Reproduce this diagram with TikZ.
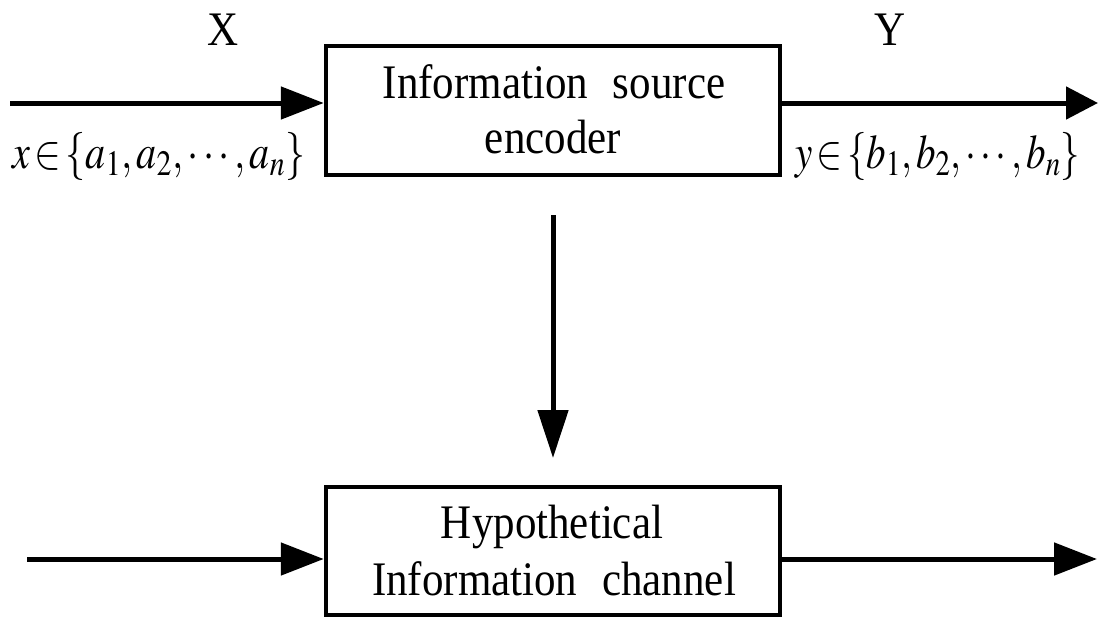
\documentclass[tikz,border=0pt]{standalone}
\usepackage{mathptmx}
\usepackage{fontspec}
\setmainfont{Liberation Serif}
\usepackage{graphicx}
\usetikzlibrary{arrows.meta}
% slightly tall serif lettering
\newcommand{\tall}[1]{\scalebox{1}[1.12]{#1}}
% a set expression fitted to a given width
\newcommand{\fitset}[2]{\resizebox{#1}{1.12\height}{#2}}
\begin{document}
\begin{tikzpicture}[x=1pt,y=-1pt,
  block/.style={draw,line width=4.5pt,minimum width=454pt,inner sep=0pt},
  txt/.style={inner sep=0pt,anchor=base,font=\fontsize{43}{49}\selectfont},
  flow/.style={line width=5pt,-{Triangle[length=43pt,width=32pt]}}]
\useasboundingbox (0,0) rectangle (1099,621);

% blocks
\node[block,minimum height=129pt] (enc) at (553,110.5) {};
\node[block,minimum height=128pt] (chan) at (553,551) {};

% block texts
\node[txt] (enc1) at (554,98) {\tall{Information\hspace{14pt} source}};
\node[txt] (enc2) at (553,153) {\tall{encoder}};
\node[txt] (chan1) at (552,538) {\tall{Hypothetical}};
\node[txt] (chan2) at (554,595) {\tall{Information\hspace{14pt} channel}};

% variable names and alphabets
\node[txt] (xname) at (223,45) {\tall{X}};
\node[txt] (yname) at (890,45) {\tall{Y}};
\node[txt,anchor=base west] (xset) at (12,168)
  {\fitset{293pt}{$x\!\in\!\{a_1,a_2,\cdots,a_n\}$}};
\node[txt,anchor=base west] (yset) at (795,168)
  {\fitset{285pt}{$y\!\in\!\{b_1,b_2,\cdots,b_n\}$}};

% arrow end points
\coordinate (inA) at (10,103);
\coordinate (outA) at (1098,103);
\coordinate (inB) at (27,559);
\coordinate (outB) at (1097,559);
\coordinate (downS) at (553,215);
\coordinate (downE) at (553,458);

% arrows
\draw[flow] (inA) -- (inA -| enc.west);
\draw[line width=5pt,-{Triangle[length=32pt,width=32pt]}] (outA -| enc.east) -- (outA);
\draw[line width=5pt,-{Triangle[length=48pt,width=30pt]}] (downS) -- (downE);
\draw[flow] (inB) -- (inB -| chan.west);
\draw[flow] (chan.east |- outB) -- (outB);
\end{tikzpicture}
\end{document}
